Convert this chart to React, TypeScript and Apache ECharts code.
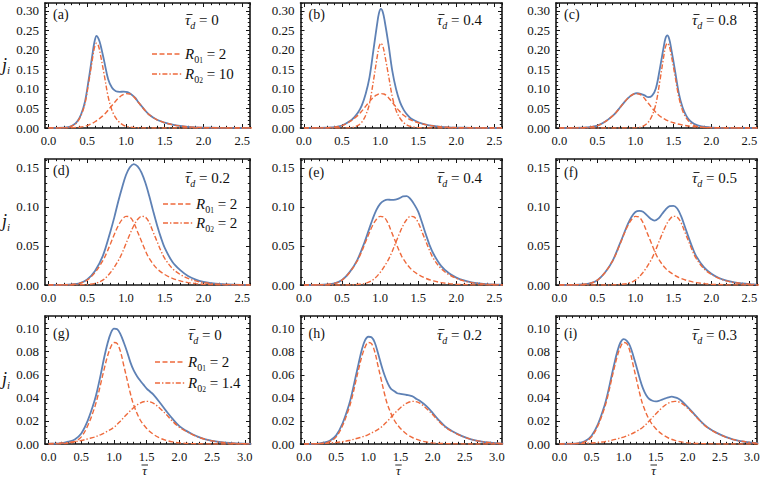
import React, { useEffect, useRef } from "react";
import * as echarts from "echarts";

// ---------------- data ----------------
// dashed curve R01 = 2 (identical in every panel)
const DASHED_R01: number[][] = [
  [0, 0], [0.1, 0.00005], [0.2, 0.0002], [0.3, 0.0007], [0.4, 0.002], [0.5, 0.0062], [0.6, 0.016],
  [0.7, 0.031], [0.75, 0.041], [0.8, 0.053], [0.85, 0.065], [0.9, 0.076], [0.95, 0.084], [1.0, 0.088],
  [1.05, 0.087], [1.1, 0.08], [1.15, 0.068], [1.2, 0.056], [1.25, 0.044], [1.3, 0.034], [1.4, 0.021],
  [1.5, 0.0135], [1.6, 0.0085], [1.7, 0.0052], [1.8, 0.0031], [1.9, 0.0018], [2.0, 0.001], [2.2, 0.0003],
  [2.4, 0.0001], [2.6, 0], [2.8, 0], [3.1, 0],
];

// row 1: R02 = 10
const DD_A: number[][] = [
  [0, 0], [0.15, 0.0002], [0.22, 0.001], [0.27, 0.0025], [0.32, 0.0065], [0.37, 0.015], [0.42, 0.032],
  [0.47, 0.062], [0.52, 0.118], [0.57, 0.18], [0.595, 0.207], [0.62, 0.217], [0.645, 0.21], [0.67, 0.188],
  [0.72, 0.135], [0.77, 0.08], [0.82, 0.045], [0.87, 0.025], [0.92, 0.0135], [0.97, 0.007], [1.02, 0.0036],
  [1.12, 0.001], [1.3, 0.0001], [1.6, 0], [2.6, 0],
];
const TOTAL_A: number[][] = [
  [0, 0.0001], [0.2, 0.0008], [0.27, 0.003], [0.32, 0.0074], [0.37, 0.0165], [0.42, 0.0345], [0.47, 0.0665],
  [0.52, 0.1255], [0.57, 0.1925], [0.595, 0.222], [0.62, 0.236], [0.645, 0.229], [0.67, 0.214], [0.72, 0.17],
  [0.77, 0.125], [0.82, 0.103], [0.87, 0.094], [0.92, 0.0925], [0.97, 0.093], [1.02, 0.0916], [1.07, 0.086],
  [1.12, 0.077], [1.15, 0.0685], [1.2, 0.0562], [1.25, 0.0442], [1.3, 0.0341], [1.4, 0.021], [1.5, 0.0135],
  [1.6, 0.0085], [1.7, 0.0052], [1.8, 0.0031], [1.9, 0.0018], [2.0, 0.001], [2.2, 0.0003], [2.4, 0.0001], [2.6, 0],
];
const DD_B: number[][] = [
  [0, 0], [0.5, 0.0002], [0.61, 0.001], [0.66, 0.0025], [0.71, 0.0065], [0.76, 0.015], [0.81, 0.032],
  [0.86, 0.062], [0.91, 0.118], [0.96, 0.18], [0.985, 0.207], [1.01, 0.217], [1.035, 0.21], [1.06, 0.188],
  [1.11, 0.135], [1.16, 0.08], [1.21, 0.045], [1.26, 0.025], [1.31, 0.0135], [1.36, 0.007], [1.41, 0.0036],
  [1.51, 0.001], [1.7, 0.0001], [2.0, 0], [2.6, 0],
];
const TOTAL_B: number[][] = [
  [0, 0], [0.2, 0.0002], [0.3, 0.0007], [0.4, 0.002], [0.5, 0.0064], [0.61, 0.0185], [0.66, 0.0275],
  [0.71, 0.0395], [0.76, 0.058], [0.81, 0.087], [0.86, 0.129], [0.91, 0.196], [0.96, 0.265], [0.985, 0.294],
  [1.01, 0.305], [1.035, 0.297], [1.06, 0.274], [1.11, 0.214], [1.16, 0.146], [1.21, 0.099], [1.26, 0.067],
  [1.31, 0.0465], [1.36, 0.033], [1.41, 0.0236], [1.51, 0.014], [1.6, 0.0086], [1.7, 0.0052], [1.8, 0.0031],
  [1.9, 0.0018], [2.0, 0.001], [2.2, 0.0003], [2.4, 0.0001], [2.6, 0],
];
const DD_C: number[][] = [
  [0, 0], [0.9, 0.0002], [1.02, 0.001], [1.07, 0.0025], [1.12, 0.0065], [1.17, 0.015], [1.22, 0.032],
  [1.27, 0.062], [1.32, 0.118], [1.37, 0.18], [1.395, 0.207], [1.42, 0.217], [1.445, 0.21], [1.47, 0.188],
  [1.52, 0.135], [1.57, 0.08], [1.62, 0.045], [1.67, 0.025], [1.72, 0.0135], [1.77, 0.007], [1.82, 0.0036],
  [1.92, 0.001], [2.1, 0.0001], [2.4, 0], [2.6, 0],
];
const TOTAL_C: number[][] = [
  [0, 0], [0.1, 0.00005], [0.2, 0.0002], [0.3, 0.0007], [0.4, 0.002], [0.5, 0.0062], [0.6, 0.016],
  [0.7, 0.031], [0.75, 0.041], [0.8, 0.053], [0.85, 0.065], [0.9, 0.076], [0.95, 0.084], [1.0, 0.0885],
  [1.02, 0.089], [1.07, 0.0875], [1.12, 0.0835], [1.17, 0.079], [1.22, 0.083], [1.27, 0.102], [1.32, 0.15],
  [1.37, 0.205], [1.395, 0.229], [1.42, 0.237], [1.445, 0.228], [1.47, 0.204], [1.52, 0.148], [1.57, 0.09],
  [1.62, 0.053], [1.67, 0.031], [1.72, 0.018], [1.77, 0.011], [1.82, 0.007], [1.92, 0.0027], [2.0, 0.0012],
  [2.2, 0.0003], [2.4, 0.0001], [2.6, 0],
];

// row 2: R02 = 2
const DD_D: number[][] = [
  [0, 0], [0.2, 0], [0.3, 0.00005], [0.4, 0.0002], [0.5, 0.0007], [0.6, 0.002], [0.7, 0.0062], [0.8, 0.016],
  [0.9, 0.031], [0.95, 0.041], [1.0, 0.053], [1.05, 0.065], [1.1, 0.076], [1.15, 0.084], [1.2, 0.088],
  [1.25, 0.087], [1.3, 0.08], [1.35, 0.068], [1.4, 0.056], [1.45, 0.044], [1.5, 0.034], [1.6, 0.021],
  [1.7, 0.0135], [1.8, 0.0085], [1.9, 0.0052], [2.0, 0.0031], [2.1, 0.0018], [2.2, 0.001], [2.4, 0.0003], [2.6, 0.0001],
];
const TOTAL_D: number[][] = [
  [0, 0], [0.2, 0.0002], [0.3, 0.0008], [0.4, 0.0022], [0.5, 0.007], [0.6, 0.018], [0.7, 0.037], [0.8, 0.069],
  [0.85, 0.087], [0.9, 0.107], [0.95, 0.125], [1.0, 0.141], [1.05, 0.151], [1.1, 0.155], [1.15, 0.152],
  [1.2, 0.144], [1.25, 0.131], [1.3, 0.114], [1.35, 0.095], [1.4, 0.077], [1.45, 0.061], [1.5, 0.0475],
  [1.6, 0.0295], [1.7, 0.019], [1.8, 0.0116], [1.9, 0.007], [2.0, 0.0041], [2.1, 0.0024], [2.2, 0.0013],
  [2.4, 0.0004], [2.6, 0.0001],
];
const DD_E: number[][] = [
  [0, 0], [0.4, 0], [0.5, 0.00005], [0.6, 0.0002], [0.7, 0.0007], [0.8, 0.002], [0.9, 0.0062], [1.0, 0.016],
  [1.1, 0.031], [1.15, 0.041], [1.2, 0.053], [1.25, 0.065], [1.3, 0.076], [1.35, 0.084], [1.4, 0.088],
  [1.45, 0.087], [1.5, 0.08], [1.55, 0.068], [1.6, 0.056], [1.65, 0.044], [1.7, 0.034], [1.8, 0.021],
  [1.9, 0.0135], [2.0, 0.0085], [2.1, 0.0052], [2.2, 0.0031], [2.3, 0.0018], [2.4, 0.001], [2.6, 0.0003],
];
const TOTAL_E: number[][] = [
  [0, 0], [0.2, 0.0002], [0.3, 0.0007], [0.4, 0.002], [0.5, 0.0063], [0.6, 0.0165], [0.7, 0.032], [0.8, 0.056],
  [0.85, 0.07], [0.9, 0.084], [0.95, 0.096], [1.0, 0.104], [1.05, 0.108], [1.1, 0.1095], [1.15, 0.109],
  [1.2, 0.1095], [1.25, 0.111], [1.3, 0.1135], [1.35, 0.114], [1.4, 0.11], [1.45, 0.103], [1.5, 0.094],
  [1.55, 0.08], [1.6, 0.065], [1.65, 0.051], [1.7, 0.04], [1.8, 0.0245], [1.9, 0.0153], [2.0, 0.0095],
  [2.1, 0.0058], [2.2, 0.0034], [2.3, 0.002], [2.4, 0.0011], [2.6, 0.0003],
];
const DD_F: number[][] = [
  [0, 0], [0.5, 0], [0.6, 0.00005], [0.7, 0.0002], [0.8, 0.0007], [0.9, 0.002], [1.0, 0.0062], [1.1, 0.016],
  [1.2, 0.031], [1.25, 0.041], [1.3, 0.053], [1.35, 0.065], [1.4, 0.076], [1.45, 0.084], [1.5, 0.088],
  [1.55, 0.087], [1.6, 0.08], [1.65, 0.068], [1.7, 0.056], [1.75, 0.044], [1.8, 0.034], [1.9, 0.021],
  [2.0, 0.0135], [2.1, 0.0085], [2.2, 0.0052], [2.3, 0.0031], [2.4, 0.0018], [2.5, 0.001], [2.6, 0.0005],
];
const TOTAL_F: number[][] = [
  [0, 0], [0.2, 0.0002], [0.3, 0.0007], [0.4, 0.002], [0.5, 0.0062], [0.6, 0.016], [0.7, 0.031], [0.8, 0.054],
  [0.85, 0.066], [0.9, 0.078], [0.95, 0.0875], [1.0, 0.0935], [1.05, 0.095], [1.1, 0.094], [1.15, 0.0895],
  [1.2, 0.085], [1.25, 0.0825], [1.3, 0.085], [1.35, 0.091], [1.4, 0.097], [1.45, 0.101], [1.5, 0.1015],
  [1.55, 0.098], [1.6, 0.0885], [1.65, 0.075], [1.7, 0.061], [1.75, 0.048], [1.8, 0.037], [1.9, 0.023],
  [2.0, 0.0145], [2.1, 0.009], [2.2, 0.0055], [2.3, 0.0033], [2.4, 0.0019], [2.5, 0.001], [2.6, 0.0005],
];

// row 3: R02 = 1.4
const DD_G: number[][] = [
  [0, 0.0002], [0.1, 0.0005], [0.3, 0.0013], [0.4, 0.002], [0.5, 0.003], [0.6, 0.0045], [0.7, 0.006],
  [0.8, 0.0082], [0.9, 0.011], [1.0, 0.0145], [1.1, 0.02], [1.2, 0.026], [1.3, 0.0315], [1.4, 0.0355],
  [1.5, 0.037], [1.6, 0.0355], [1.7, 0.031], [1.8, 0.0255], [1.9, 0.0195], [2.0, 0.0145], [2.1, 0.011],
  [2.2, 0.0082], [2.3, 0.0058], [2.4, 0.004], [2.5, 0.0027], [2.7, 0.0011], [2.9, 0.0004], [3.1, 0.0001],
];
const TOTAL_G: number[][] = [
  [0, 0.0002], [0.2, 0.0008], [0.3, 0.002], [0.4, 0.004], [0.5, 0.0092], [0.6, 0.0205], [0.7, 0.037],
  [0.75, 0.048], [0.8, 0.061], [0.85, 0.075], [0.9, 0.087], [0.95, 0.096], [1.0, 0.1], [1.05, 0.0995],
  [1.1, 0.095], [1.15, 0.088], [1.2, 0.08], [1.25, 0.071], [1.3, 0.064], [1.35, 0.059], [1.4, 0.055],
  [1.45, 0.0515], [1.5, 0.048], [1.55, 0.0455], [1.6, 0.043], [1.7, 0.036], [1.8, 0.0285], [1.9, 0.0215],
  [2.0, 0.0155], [2.1, 0.0116], [2.2, 0.0085], [2.3, 0.006], [2.4, 0.0041], [2.5, 0.0028], [2.7, 0.0012],
  [2.9, 0.0005], [3.1, 0.0001],
];
const DD_H: number[][] = [
  [0, 0], [0.3, 0.0005], [0.5, 0.0013], [0.6, 0.002], [0.7, 0.003], [0.8, 0.0045], [0.9, 0.006], [1.0, 0.0082],
  [1.1, 0.011], [1.2, 0.0145], [1.3, 0.02], [1.4, 0.026], [1.5, 0.0315], [1.6, 0.0355], [1.7, 0.037],
  [1.8, 0.0355], [1.9, 0.031], [2.0, 0.0255], [2.1, 0.0195], [2.2, 0.0145], [2.3, 0.011], [2.4, 0.0082],
  [2.5, 0.0058], [2.6, 0.004], [2.7, 0.0027], [2.9, 0.0011], [3.1, 0.0004],
];
const TOTAL_H: number[][] = [
  [0, 0.0001], [0.2, 0.0003], [0.3, 0.0012], [0.4, 0.0028], [0.5, 0.0075], [0.6, 0.018], [0.7, 0.034],
  [0.75, 0.045], [0.8, 0.0575], [0.85, 0.07], [0.9, 0.082], [0.95, 0.09], [1.0, 0.093], [1.05, 0.0925],
  [1.1, 0.088], [1.15, 0.079], [1.2, 0.069], [1.25, 0.06], [1.3, 0.053], [1.35, 0.048], [1.4, 0.046],
  [1.45, 0.044], [1.5, 0.0435], [1.55, 0.043], [1.6, 0.0425], [1.65, 0.042], [1.7, 0.041], [1.75, 0.039],
  [1.8, 0.0375], [1.9, 0.033], [2.0, 0.027], [2.1, 0.0205], [2.2, 0.015], [2.3, 0.0113], [2.4, 0.0084],
  [2.5, 0.006], [2.6, 0.0041], [2.7, 0.0028], [2.9, 0.0011], [3.1, 0.0004],
];
const DD_I: number[][] = [
  [0, 0], [0.4, 0.0005], [0.6, 0.0013], [0.7, 0.002], [0.8, 0.003], [0.9, 0.0045], [1.0, 0.006], [1.1, 0.0082],
  [1.2, 0.011], [1.3, 0.0145], [1.4, 0.02], [1.5, 0.026], [1.6, 0.0315], [1.7, 0.0355], [1.8, 0.037],
  [1.9, 0.0355], [2.0, 0.031], [2.1, 0.0255], [2.2, 0.0195], [2.3, 0.0145], [2.4, 0.011], [2.5, 0.0082],
  [2.6, 0.0058], [2.7, 0.004], [2.8, 0.0027], [3.0, 0.0011], [3.1, 0.0007],
];
const TOTAL_I: number[][] = [
  [0, 0.0001], [0.2, 0.0002], [0.3, 0.0008], [0.4, 0.0025], [0.5, 0.0072], [0.6, 0.0173], [0.7, 0.033],
  [0.75, 0.0435], [0.8, 0.056], [0.85, 0.0685], [0.9, 0.08], [0.95, 0.088], [1.0, 0.091], [1.05, 0.0895],
  [1.1, 0.085], [1.15, 0.0765], [1.2, 0.067], [1.25, 0.057], [1.3, 0.0485], [1.35, 0.0425], [1.4, 0.039],
  [1.45, 0.0375], [1.5, 0.037], [1.55, 0.0375], [1.6, 0.0385], [1.65, 0.0395], [1.7, 0.0405], [1.75, 0.041],
  [1.8, 0.0405], [1.85, 0.0395], [1.9, 0.0375], [2.0, 0.032], [2.1, 0.026], [2.2, 0.0199], [2.3, 0.0148],
  [2.4, 0.0112], [2.5, 0.0083], [2.6, 0.0059], [2.7, 0.0041], [2.8, 0.0028], [3.0, 0.0011], [3.1, 0.0007],
];

const TOTALS = [TOTAL_A, TOTAL_B, TOTAL_C, TOTAL_D, TOTAL_E, TOTAL_F, TOTAL_G, TOTAL_H, TOTAL_I];
const DASH_DOTS = [DD_A, DD_B, DD_C, DD_D, DD_E, DD_F, DD_G, DD_H, DD_I];

const PANEL_LABELS = ["(a)", "(b)", "(c)", "(d)", "(e)", "(f)", "(g)", "(h)", "(i)"];
const TAU_D = ["0", "0.4", "0.8", "0.2", "0.4", "0.5", "0", "0.2", "0.3"];
const R01_VALUES = ["2", "2", "2"];
const R02_VALUES = ["10", "2", "1.4"];

const X_TICKS_SHORT = [0, 0.5, 1, 1.5, 2, 2.5];
const X_TICKS_LONG = [0, 0.5, 1, 1.5, 2, 2.5, 3];
const Y_TICKS_ROW1 = [0, 0.05, 0.1, 0.15, 0.2, 0.25, 0.3];
const Y_TICKS_ROW2 = [0, 0.05, 0.1, 0.15];
const Y_TICKS_ROW3 = [0, 0.02, 0.04, 0.06, 0.08, 0.1];

// ---------------- layout / style ----------------
const SERIF = "Liberation Serif, Times New Roman, serif";
const BLUE = "#5E81B5";
const RED = "#EE6A3C";
const FRAME = "#151515";

const COL_LEFT = [45, 300.5, 556];
const COL_W = [205, 201.5, 201];
const ROW_TOP = [3, 159, 316];
const ROW_H = [125, 126, 128];
const ROW_X_RANGE = [[-0.045, 2.6], [-0.045, 2.6], [-0.055, 3.08]];
const ROW_Y_MAX = [0.32, 0.1615, 0.111];
const ROW_Y_TICKS = [Y_TICKS_ROW1, Y_TICKS_ROW2, Y_TICKS_ROW3];
const ROW_Y_MINOR_STEP = [0.01, 0.01, 0.005];
const ROW_X_TICKS = [X_TICKS_SHORT, X_TICKS_SHORT, X_TICKS_LONG];
const LABEL_Y = [14.5, 14.5, 14.5, 170, 172, 172, 333, 333, 333];
const TD_Y = [20, 178, 335];
const TD_LEFT = [[185, 437, 692], [185, 437, 692], [188, 437, 692]];
const LEGEND_POS = [
  { x1: 152, x2: 182, y: [54, 74], tx: 185 },
  { x1: 163, x2: 193, y: [204, 223], tx: 196 },
  { x1: 155, x2: 185, y: [362, 383], tx: 188 },
];

function minorValues(majors: number[], step: number, max: number): number[] {
  const out: number[] = [];
  const n = Math.floor(max / step + 1e-9);
  for (let k = 1; k <= n; k++) {
    const v = +(k * step).toFixed(6);
    if (!majors.some((m) => Math.abs(m - v) < 1e-9)) out.push(v);
  }
  return out;
}

function tauBar(x: number, y: number, w: number) {
  return {
    type: "line",
    shape: { x1: x, y1: y, x2: x + w, y2: y },
    style: { stroke: "#111", lineWidth: 0.9 },
  };
}

function buildOption() {
  const grid: any[] = [];
  const xAxis: any[] = [];
  const yAxis: any[] = [];
  const series: any[] = [];
  const graphic: any[] = [];

  for (let i = 0; i < 9; i++) {
    const r = Math.floor(i / 3);
    const c = i % 3;
    grid.push({ left: COL_LEFT[c], top: ROW_TOP[r], width: COL_W[c], height: ROW_H[r] });
    const [xmin, xmax] = ROW_X_RANGE[r];
    const xMaj = ROW_X_TICKS[r];
    const xMin = minorValues(xMaj, 0.1, xmax);
    const yMaj = ROW_Y_TICKS[r];
    const yMin = minorValues(yMaj, ROW_Y_MINOR_STEP[r], ROW_Y_MAX[r]);
    const xBase = xAxis.length;
    const yBase = yAxis.length;

    const mkAxis = (dim: "x" | "y", pos: string, major: boolean, labels: boolean) => {
      const maj = dim === "x" ? xMaj : yMaj;
      const min = dim === "x" ? xMin : yMin;
      return {
        type: "value",
        gridIndex: i,
        position: pos,
        min: dim === "x" ? xmin : 0,
        max: dim === "x" ? xmax : ROW_Y_MAX[r],
        axisLine: { show: major, onZero: false, lineStyle: { color: FRAME, width: 1.6 } },
        axisTick: {
          show: true,
          inside: true,
          length: major ? 4 : 2.2,
          customValues: major ? maj : min,
          lineStyle: { color: FRAME, width: 1 },
        },
        minorTick: { show: false },
        splitLine: { show: false },
        axisLabel: {
          show: labels,
          customValues: maj,
          formatter: (v: number) => (dim === "x" ? v.toFixed(1) : v.toFixed(2)),
          margin: dim === "x" ? 6 : 6,
          fontFamily: SERIF,
          fontSize: dim === "x" ? 12.5 : 13,
          color: "#111",
        },
      };
    };
    xAxis.push(mkAxis("x", "bottom", true, true));
    xAxis.push(mkAxis("x", "bottom", false, false));
    xAxis.push(mkAxis("x", "top", true, false));
    xAxis.push(mkAxis("x", "top", false, false));
    yAxis.push(mkAxis("y", "left", true, true));
    yAxis.push(mkAxis("y", "left", false, false));
    yAxis.push(mkAxis("y", "right", true, false));
    yAxis.push(mkAxis("y", "right", false, false));

    const common = {
      type: "line",
      xAxisIndex: xBase,
      yAxisIndex: yBase,
      showSymbol: false,
      symbol: "none",
      smooth: 0.35,
      silent: true,
    };
    series.push({ ...common, name: "total" + i, data: TOTALS[i], lineStyle: { color: BLUE, width: 1.8 }, z: 3 });
    series.push({ ...common, name: "r01" + i, data: DASHED_R01, lineStyle: { color: RED, width: 1.4, type: [5, 2.5] }, z: 4 });
    series.push({ ...common, name: "r02" + i, data: DASH_DOTS[i], lineStyle: { color: RED, width: 1.4, type: [5, 2, 1.4, 2] }, z: 4 });

    // panel label
    graphic.push({
      type: "text",
      x: COL_LEFT[c] + 8,
      y: LABEL_Y[i],
      style: { text: PANEL_LABELS[i], fontFamily: SERIF, fontSize: 14, fill: "#111", verticalAlign: "middle", align: "left" },
    });
    // tau_d label
    const tl = TD_LEFT[r][c];
    graphic.push({
      type: "text",
      x: tl,
      y: TD_Y[r],
      style: {
        text: `{t|τ}{s|d}{e| = ${TAU_D[i]}}`,
        align: "left",
        verticalAlign: "middle",
        fill: "#111",
        rich: {
          t: { fontFamily: SERIF, fontStyle: "italic", fontSize: 15, lineHeight: 20 },
          s: { fontFamily: SERIF, fontStyle: "italic", fontSize: 10, verticalAlign: "bottom", lineHeight: 12 },
          e: { fontFamily: SERIF, fontSize: 15, lineHeight: 20 },
        },
      },
    });
    graphic.push(tauBar(tl + 1.5, TD_Y[r] - 5.5, 6));
  }

  // legends in the first column
  for (let r = 0; r < 3; r++) {
    const L = LEGEND_POS[r];
    const vals = [R01_VALUES[r], R02_VALUES[r]];
    for (let k = 0; k < 2; k++) {
      graphic.push({
        type: "line",
        shape: { x1: L.x1, y1: L.y[k], x2: L.x2, y2: L.y[k] },
        style: { stroke: RED, lineWidth: 1.4, lineDash: k === 0 ? [5, 2.5] : [5, 2, 1.4, 2] },
      });
      graphic.push({
        type: "text",
        x: L.tx,
        y: L.y[k],
        style: {
          text: `{r|R}{a|0}{b|${k + 1}}{e| = ${vals[k]}}`,
          align: "left",
          verticalAlign: "middle",
          fill: "#111",
          rich: {
            r: { fontFamily: SERIF, fontStyle: "italic", fontSize: 15, lineHeight: 20 },
            a: { fontFamily: SERIF, fontSize: 10, verticalAlign: "bottom", lineHeight: 14 },
            b: { fontFamily: SERIF, fontSize: 7.5, verticalAlign: "bottom", lineHeight: 8 },
            e: { fontFamily: SERIF, fontSize: 15, lineHeight: 20 },
          },
        },
      });
    }
    // y-axis title j_i
    graphic.push({
      type: "text",
      x: 2,
      y: ROW_TOP[r] + ROW_H[r] / 2 - 1,
      style: {
        text: "{j|j}{i|i}",
        align: "left",
        verticalAlign: "middle",
        fill: "#111",
        rich: {
          j: { fontFamily: SERIF, fontStyle: "italic", fontSize: 18, lineHeight: 22 },
          i: { fontFamily: SERIF, fontStyle: "italic", fontSize: 11, verticalAlign: "bottom", lineHeight: 13 },
        },
      },
    });
  }
  // x-axis titles
  for (let c = 0; c < 3; c++) {
    const cx = COL_LEFT[c] + COL_W[c] / 2 - 3;
    graphic.push({
      type: "text",
      x: cx,
      y: 470,
      style: { text: "τ", fontFamily: SERIF, fontStyle: "italic", fontSize: 13, fill: "#111", align: "center", verticalAlign: "middle" },
    });
    graphic.push(tauBar(cx - 3, 465, 6.5));
  }

  return {
    animation: false,
    backgroundColor: "#ffffff",
    grid,
    xAxis,
    yAxis,
    series,
    graphic,
  };
}

export default function App() {
  const ref = useRef<HTMLDivElement>(null);
  useEffect(() => {
    if (!ref.current) return;
    const chart = echarts.init(ref.current, undefined, { renderer: "svg" });
    chart.setOption(buildOption() as any);
    return () => chart.dispose();
  }, []);
  return (
    <div
      ref={ref}
      style={{ position: "absolute", left: 0, top: 0, width: 763, height: 478, background: "#fff" }}
    />
  );
}
